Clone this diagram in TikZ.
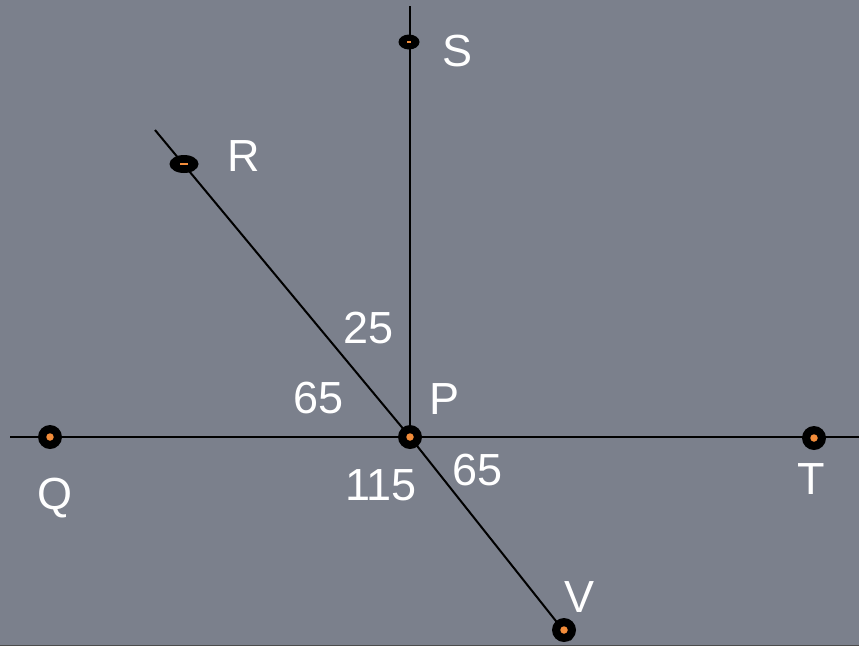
\documentclass[tikz,border=0pt]{standalone}
\usepackage{fontspec}
\setmainfont{Liberation Sans}
\usetikzlibrary{shapes.geometric}
\definecolor{bg}{HTML}{7B808C}
\definecolor{dotorange}{HTML}{F28C3A}
\begin{document}
\begin{tikzpicture}[x=1pt,y=-1pt,
  lbl/.style={text=white,font=\fontsize{45}{52}\selectfont,inner sep=0pt,anchor=center},
  bigdot/.style={circle,fill=black,inner sep=0pt,minimum size=24pt},
  odot/.style={circle,fill=dotorange,inner sep=0pt,minimum size=7.5pt},
  ln/.style={line width=2pt,black}]
\fill[bg] (0,0) rectangle (859,646);
\useasboundingbox (0,0) rectangle (859,646);
\draw[line width=1pt,black!70] (0,645) -- (859,645);
% line ends
\coordinate (Lend) at (10,437);
\coordinate (Rend) at (859,437);
\coordinate (Stop) at (410,6);
\coordinate (Rtop) at (155,130);
\coordinate (Vend) at (571,640);
\coordinate (Pc) at (410,437);
\draw[ln] (Lend) -- (Rend);
\draw[ln] (Stop) -- (Pc);
\draw[ln] (Rtop) -- (Pc) -- (Vend);
% dots
\node[bigdot] (P) at (410,437) {};
\node[odot] at (P) {};
\node[bigdot] (Q) at (50,437) {};
\node[odot] at (Q) {};
\node[bigdot] (T) at (814,438) {};
\node[odot] at (T) {};
\node[bigdot] (V) at (564,630) {};
\node[odot] at (V) {};
\node[ellipse,fill=black,inner sep=0pt,minimum width=21pt,minimum height=15pt] (S) at (409,42) {};
\fill[dotorange] (407,41) rectangle (411,43);
\node[ellipse,fill=black,inner sep=0pt,minimum width=29pt,minimum height=18pt] (R) at (184,164) {};
\fill[dotorange] (180,163) rectangle (188,165);
% labels
\node[lbl] (lS) at (458,51) {S};
\node[lbl] (lR) at (244,156) {R};
\node[lbl] (lP) at (445,399) {P};
\node[lbl] (lQ) at (55,498) {Q};
\node[lbl] (lT) at (811,479) {T};
\node[lbl] (lV) at (579,597) {V};
\node[lbl] (a25) at (369,328) {25};
\node[lbl] (a65l) at (319,398) {65};
\node[lbl] (a115) at (381,485) {115};
\node[lbl] (a65r) at (478,470) {65};
\end{tikzpicture}
\end{document}
